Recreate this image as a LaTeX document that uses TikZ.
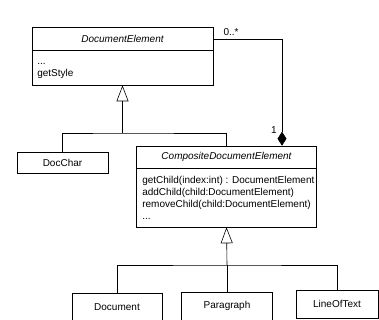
\documentclass[tikz,border=0pt]{standalone}
\usepackage{fontspec}
\setmainfont{Liberation Sans}
\usetikzlibrary{arrows.meta}

\begin{document}
\begin{tikzpicture}[x=1pt, y=-1pt, line width=0.6pt,
                    every node/.style={font=\fontsize{10}{12}\selectfont},
                    classbox/.style={draw, rectangle, inner sep=0pt},
                    classname/.style={font=\fontsize{10}{12}\selectfont\itshape},
                    oplist/.style={align=left, anchor=north west, inner sep=0pt},
                    inherit/.style={-{Triangle[open, length=16pt, width=12pt]}},
                    owns/.style={-{Diamond[length=14pt, width=9pt]}}]

                    \useasboundingbox (0,0) rectangle (379,320);
                    \clip (0,0) rectangle (379,320);

                    % Define nodes
                    \node[classbox, minimum width=181, minimum height=58] (DE) at (122.5,56) {}; % DocumentElement
                    \node[classname] (DEname) at (122.5,38.5) {DocumentElement};
                    \node[oplist] (DEops) at (37,55.6) {\strut...\\getStyle};
                    \node[classbox, minimum width=91, minimum height=21] (DC) at (62.5,162.5) {DocChar};
                    \node[classbox, minimum width=180, minimum height=81] (CDE) at (226.5,186.5) {}; % CompositeDocumentElement
                    \node[classname] (CDEname) at (226.5,157) {CompositeDocumentElement};
                    \node[oplist] (CDEops) at (142,175) {\strut getChild(index:int) : DocumentElement\\addChild(child:DocumentElement)\\removeChild(child:DocumentElement)\\...};
                    \node[classbox, minimum width=90, minimum height=28] (DOC) at (117,307) {Document}; % Child of CDE
                    \node[classbox, minimum width=91, minimum height=28] (PG) at (227,306) {Paragraph}; % Child of CDE
                    \node[classbox, minimum width=82, minimum height=28] (LOT) at (337,304) {LineOfText}; % Child of CDE

                    % Compartment lines
                    \draw (DE.west |- 0,50) -- (DE.east |- 0,50);
                    \draw (CDE.west |- 0,168) -- (CDE.east |- 0,168);

                    % Define edges
                    \coordinate (j1) at (122.5,133);
                    \coordinate (j2) at (227,265);
                    \coordinate (c1) at (282,39);
                    \draw (DC.north) |- (j1) -| (CDE.north);
                    \draw[inherit] (j1) -- (DE.south);
                    \draw (DOC.north) |- (j2) -| (LOT.north);
                    \draw (PG.north) -- (j2);
                    \draw[inherit] (j2) -- (CDE.south);
                    \draw[owns] (DE.east |- c1) -| (CDE.north -| c1);

                    % Multiplicities
                    \node (many) at (231,32) {0..*};
                    \node (one) at (274,130) {1};
                \end{tikzpicture}
\end{document}
